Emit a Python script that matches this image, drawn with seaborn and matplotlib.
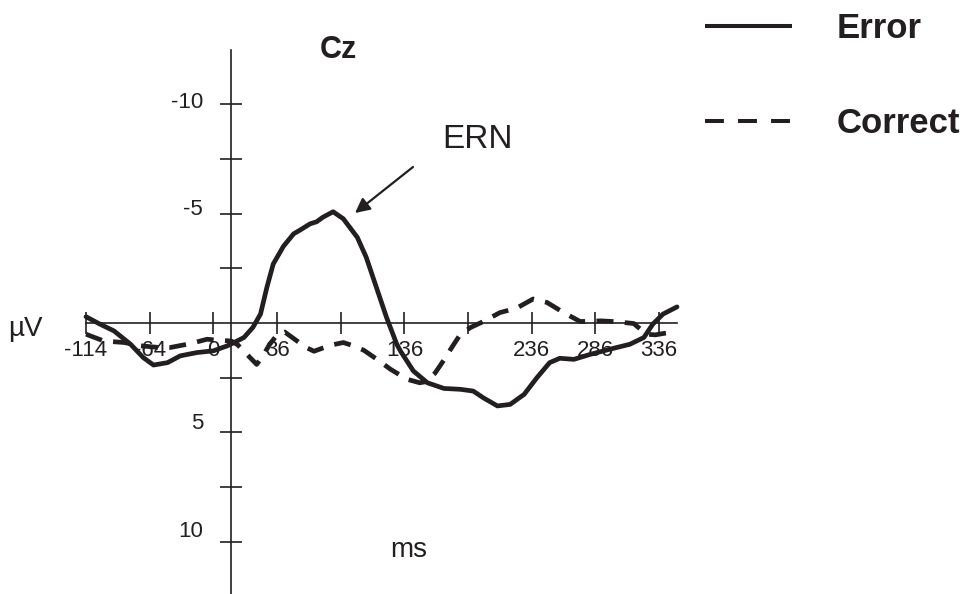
import numpy as np
import pandas as pd
import matplotlib
matplotlib.use("Agg")
import matplotlib.pyplot as plt
from matplotlib.lines import Line2D
from matplotlib.transforms import ScaledTranslation
import seaborn as sns

# ---- data ----
error_ms = [-114, -103, -92, -79, -69, -61, -50, -40, -27, -14, -3, 4, 10, 17, 23, 28, 33,
            41, 49, 54, 62, 67, 72, 80, 88, 99, 106, 114, 122, 130, 133, 143, 154, 167,
            180, 190, 198, 209, 219, 230, 240, 250, 258, 269, 282, 297, 313, 324, 331, 339, 350]
error_uv = [-0.28, 0.06, 0.37, 0.98, 1.59, 1.93, 1.82, 1.51, 1.36, 1.28, 1.05, 0.85, 0.67, 0.21,
            -0.4, -1.62, -2.69, -3.5, -4.07, -4.24, -4.53, -4.62, -4.83, -5.08, -4.76, -3.91,
            -3.0, -1.62, -0.24, 0.98, 1.3, 2.2, 2.74, 3.0, 3.04, 3.12, 3.43, 3.8, 3.73, 3.27,
            2.51, 1.82, 1.62, 1.67, 1.44, 1.21, 0.98, 0.67, 0.06, -0.4, -0.73]

correct_ms = [-114, -100, -84, -71, -56, -48, -32, -19, -9, 0, 5, 10, 15, 20, 25, 30, 36, 42,
              51, 58, 65, 72, 80, 88, 96, 104, 114, 125, 138, 148, 152, 160, 167, 174, 180,
              188, 198, 211, 224, 237, 248, 261, 274, 290, 300, 316, 326, 333, 340, 350]
correct_uv = [0.52, 0.83, 0.9, 1.05, 1.13, 1.13, 0.95, 0.75, 0.8, 0.83, 1.0, 1.3, 1.6, 1.9,
              1.5, 1.0, 0.55, 0.42, 0.8, 1.1, 1.3, 1.15, 1.0, 0.9, 1.05, 1.25, 1.65, 2.12,
              2.58, 2.74, 2.7, 2.3, 1.7, 1.05, 0.52, 0.21, -0.06, -0.47, -0.67, -1.09, -0.93,
              -0.47, -0.06, -0.09, -0.06, 0.03, 0.52, 0.55, 0.48, 0.42]

conditions = ["Error", "Correct"]
x_ticks = [-114, -64, -14, 36, 86, 136, 186, 236, 286, 336]
x_tick_labels = ["-114", "-64", "0", "36", "", "136", "", "236", "286", "336"]
y_ticks = [-10, -7.5, -5, -2.5, 2.5, 5, 7.5, 10]
y_tick_labels = ["-10", "", "-5", "", "", "5", "", "10"]

df = pd.concat([
    pd.DataFrame({"ms": error_ms, "uV": error_uv, "condition": conditions[0]}),
    pd.DataFrame({"ms": correct_ms, "uV": correct_uv, "condition": conditions[1]}),
], ignore_index=True)

# ---- style ----
sns.set_style("white")
plt.rcParams["font.family"] = ["Liberation Sans", "DejaVu Sans"]
INK = "#231f20"

W, H = 971, 594
fig = plt.figure(figsize=(W / 100, H / 100), dpi=100)
ax = fig.add_axes([86 / W, 0, (677 - 86) / W, (594 - 49.5) / H])

sns.lineplot(data=df, x="ms", y="uV", style="condition", style_order=conditions,
             dashes={"Error": "", "Correct": (3.6, 2.4)}, color=INK,
             estimator=None, sort=False, ax=ax, legend=False, linewidth=3.4)
for ln in ax.lines:
    ln.set_clip_on(False)
    ln.set_solid_capstyle("round")
    ln.set_solid_joinstyle("round")

ax.set_xlim(-114, 350)
ax.set_ylim(12.4, -12.5)

for s in ["top", "right"]:
    ax.spines[s].set_visible(False)
ax.spines["left"].set_position(("data", 0))
ax.spines["bottom"].set_position(("data", 0))
for s in ["left", "bottom"]:
    ax.spines[s].set_color(INK)
    ax.spines[s].set_linewidth(1.2)

ax.set_xticks(x_ticks)
ax.set_xticklabels(x_tick_labels)
ax.set_yticks(y_ticks)
ax.set_yticklabels(y_tick_labels)
ax.tick_params(axis="both", direction="inout", length=16.5, width=1.2, color=INK,
               labelsize=16, labelcolor=INK, bottom=True, left=True)
ax.tick_params(axis="x", pad=4)
ax.tick_params(axis="y", pad=12)
ax.set_xlabel("")
ax.set_ylabel("")
y_label_lift = {"-10": 4, "-5": 6.5, "5": 11, "10": 12.5}
for lab in ax.get_yticklabels():
    dy = y_label_lift.get(lab.get_text(), 0)
    lab.set_transform(lab.get_transform() + ScaledTranslation(0, dy / 100, fig.dpi_scale_trans))
ax.patch.set_alpha(0)

# ---- texts ----
fig.text(338 / W, 1 - 50 / H, "Cz", fontsize=22, fontweight="bold", color=INK,
         ha="center", va="center")
fig.text(477 / W, 1 - 140 / H, "ERN", fontsize=24, color=INK, ha="center", va="center")
fig.text(409 / W, 1 - 550 / H, "ms", fontsize=20, color=INK, ha="center", va="center")
fig.text(25 / W, 1 - 329 / H, "µV", fontsize=20, color=INK, ha="center", va="center")

ax.annotate("", xy=(355, H - 213), xycoords="figure pixels",
            xytext=(413, H - 167), textcoords="figure pixels",
            arrowprops=dict(arrowstyle="-|>", color=INK, lw=1.6, mutation_scale=22,
                            shrinkA=0, shrinkB=0))

# ---- legend ----
handles = [Line2D([], [], color=INK, lw=2.9, solid_capstyle="butt"),
           Line2D([], [], color=INK, lw=2.9, dashes=(4.7, 3.5), dash_capstyle="butt")]
fig.legend(handles, conditions, loc="upper left", bbox_to_anchor=(705 / W, 1 - 12 / H),
           frameon=False, prop=dict(size=25, weight="bold"), handlelength=2.5,
           handletextpad=1.3, labelspacing=1.78, borderpad=0, borderaxespad=0,
           labelcolor=INK)

fig.savefig("out.png", dpi=100)
